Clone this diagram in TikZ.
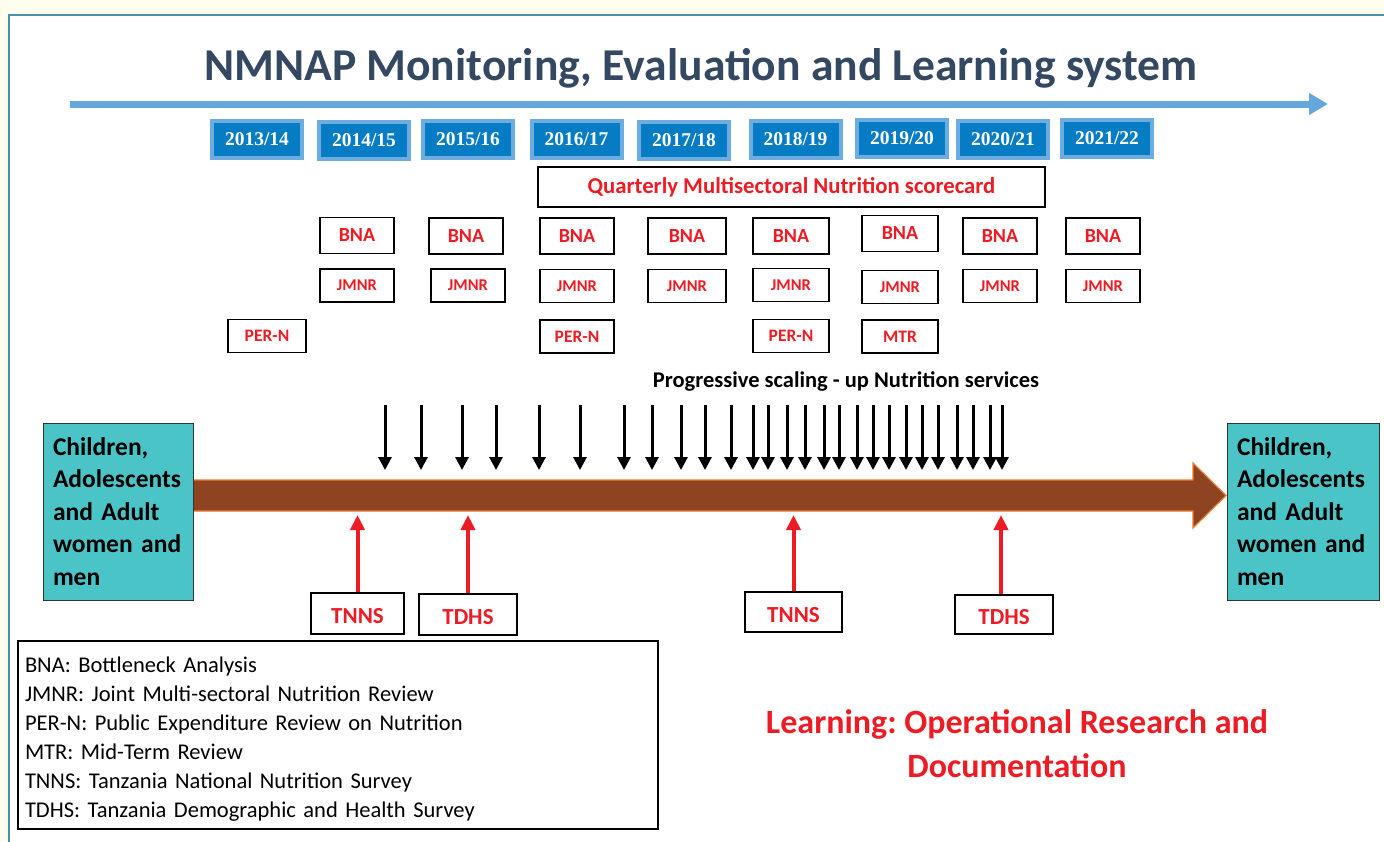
\documentclass[tikz,border=0pt]{standalone}
\usepackage{fontspec}
\setmainfont{Carlito}
\newfontfamily\timesfont{Liberation Serif}
\usetikzlibrary{arrows.meta}
\frenchspacing
\definecolor{cream}{RGB}{254,254,238}
\definecolor{framecol}{RGB}{75,145,165}
\definecolor{titlecol}{RGB}{52,72,97}
\definecolor{arrowblue}{RGB}{102,168,221}
\definecolor{yearedge}{RGB}{108,172,224}
\definecolor{yearfill}{RGB}{5,124,196}
\definecolor{nred}{RGB}{237,28,36}
\definecolor{brownfill}{RGB}{142,68,32}
\definecolor{brownedge}{RGB}{237,125,49}
\definecolor{tealfill}{RGB}{75,196,200}
\tikzset{
  yearbox/.style={draw=yearedge, line width=4pt, fill=yearfill, text=white,
    minimum width=90pt, minimum height=37pt, inner sep=0pt,
    font=\timesfont\bfseries\fontsize{19.5}{21}\selectfont},
  evbox/.style={draw=black, line width=1.3pt, fill=white, text=nred,
    minimum width=74pt, minimum height=36pt, inner sep=0pt},
  bnafont/.style={font=\bfseries\fontsize{20}{22}\selectfont},
  jmfont/.style={font=\bfseries\fontsize{16.5}{18}\selectfont},
  perfont/.style={font=\bfseries\fontsize{17.5}{19}\selectfont},
  survbox/.style={draw=black, line width=1.3pt, fill=white, text=nred,
    minimum height=40pt, inner sep=0pt, text height=20pt, text depth=0pt,
    font=\bfseries\fontsize{23}{25}\selectfont},
  popbox/.style={draw=black!80, line width=1pt, fill=tealfill, text=black,
    minimum height=177pt, inner sep=10pt, text width=130pt, align=left,
    font=\bfseries\fontsize{25.5}{32.5}\selectfont},
  downarrow/.style={line width=3pt, -{Triangle[width=13pt,length=13pt]}},
  uparrow/.style={draw=nred, line width=4pt, -{Triangle[width=14pt,length=15pt]}},
}
\begin{document}
\begin{tikzpicture}[x=1pt,y=-1pt]
\useasboundingbox (0,0) rectangle (1384,841);
\fill[cream] (0,0) rectangle (1384,841);
\draw[framecol, line width=2pt, fill=white] (9,15) rectangle (1400,860);

% title
\node[text=titlecol, font=\bfseries\fontsize{45.6}{50}\selectfont] (title) at (701,68) {NMNAP Monitoring, Evaluation and Learning system};

% timeline arrow
\coordinate (tl0) at (70,104);
\coordinate (tl1) at (1328,104);
\draw[arrowblue, line width=7pt, -{Triangle[width=21pt,length=19pt]}] (tl0) -- (tl1);

% years
\node[yearbox] (y1) at (257,139.5) {2013/14};
\node[yearbox] (y2) at (364,140.5) {2014/15};
\node[yearbox] (y3) at (468,139.5) {2015/16};
\node[yearbox] (y4) at (576.5,139) {2016/17};
\node[yearbox] (y5) at (684,140) {2017/18};
\node[yearbox] (y6) at (795.5,139.5) {2018/19};
\node[yearbox] (y7) at (902,138) {2019/20};
\node[yearbox] (y8) at (1003,139) {2020/21};
\node[yearbox] (y9) at (1107,138) {2021/22};

% scorecard
\node[draw=black, line width=1.3pt, minimum width=507pt, minimum height=40pt, inner sep=0pt,
  text=nred, font=\bfseries\fontsize{22.7}{24}\selectfont] (score) at (791.5,187) {Quarterly Multisectoral Nutrition scorecard};

% BNA row
\node[evbox,bnafont] (b2) at (357,235.5) {BNA};
\node[evbox,bnafont] (b3) at (466,236) {BNA};
\node[evbox,bnafont] (b4) at (577,236) {BNA};
\node[evbox,bnafont,minimum width=78pt] (b5) at (687,236) {BNA};
\node[evbox,bnafont,minimum width=76pt] (b6) at (791,236) {BNA};
\node[evbox,bnafont,minimum width=76pt] (b7) at (900,233.5) {BNA};
\node[evbox,bnafont] (b8) at (1000,236) {BNA};
\node[evbox,bnafont] (b9) at (1103,236) {BNA};

% JMNR row
\node[evbox,jmfont,minimum height=33pt] (j2) at (357,285.5) {JMNR};
\node[evbox,jmfont,minimum height=33pt] (j3) at (468,285.5) {JMNR};
\node[evbox,jmfont,minimum height=33pt] (j4) at (577,286) {JMNR};
\node[evbox,jmfont,minimum height=33pt,minimum width=78pt] (j5) at (687,286) {JMNR};
\node[evbox,jmfont,minimum height=33pt,minimum width=76pt] (j6) at (791,285) {JMNR};
\node[evbox,jmfont,minimum height=33pt,minimum width=76pt] (j7) at (900,287) {JMNR};
\node[evbox,jmfont,minimum height=33pt] (j8) at (1000,286) {JMNR};
\node[evbox,jmfont,minimum height=33pt] (j9) at (1103,286) {JMNR};

% PER-N / MTR row
\node[evbox,perfont,minimum height=33pt,minimum width=78pt] (p1) at (267,336) {PER-N};
\node[evbox,perfont,minimum height=33pt] (p4) at (577,336.5) {PER-N};
\node[evbox,perfont,minimum height=33pt,minimum width=76pt] (p6) at (791,336) {PER-N};
\node[evbox,perfont,minimum height=33pt,minimum width=76pt] (m7) at (900,336.5) {MTR};

% progressive text
\node[font=\bfseries\fontsize{22.5}{24}\selectfont] (prog) at (846,381) {Progressive scaling - up Nutrition services};

% brown arrow
\path[fill=brownfill, draw=brownedge, line width=1.2pt]
  (193,480) -- (1193,480) -- (1193,463) -- (1226,495.5) -- (1193,528) -- (1193,511) -- (193,511) -- cycle;

% down arrows
\foreach \xx [count=\i] in {385,421,462,496,539,580,624,652,681,705,731,753,768,787,805,824,839,857,873,889,906,922,938,957,973,990,1002}{
  \coordinate (da\i) at (\xx,405);
  \coordinate (db\i) at (\xx,470);
  \draw[downarrow] (da\i) -- (db\i);
}

% population boxes
\node[popbox, minimum width=150pt, text width=130pt] (popL) at (118,511.5) {Children,\\Adolescents\\and Adult\\women and\\men};
\node[popbox, minimum width=152pt, text width=132pt] (popR) at (1303,511.5) {Children,\\Adolescents\\and Adult\\women and\\men};

% surveys
\node[survbox, minimum width=93pt, minimum height=41pt] (tnns1) at (357.5,613.5) {TNNS};
\node[survbox, minimum width=98pt, minimum height=41pt] (tdhs1) at (468,614.5) {TDHS};
\node[survbox, minimum width=97pt] (tnns2) at (793.5,612) {TNNS};
\node[survbox, minimum width=98pt, minimum height=39pt] (tdhs2) at (1004,614.5) {TDHS};

\coordinate (u1) at (357.5,515);
\coordinate (u2) at (468,515);
\coordinate (u3) at (793.5,515);
\coordinate (u4) at (1001,515);
\draw[uparrow] (tnns1.north) -- (u1);
\draw[uparrow] (tdhs1.north) -- (u2);
\draw[uparrow] (tnns2.north) -- (u3);
\draw[uparrow] ([xshift=-3pt]tdhs2.north) -- (u4);

% legend
\node[draw=black, line width=1.3pt, fill=white, minimum width=640pt, minimum height=188pt,
  text width=626pt, inner xsep=7pt, align=left, font=\fontsize{22.5}{29}\selectfont] (legend) at (338,735)
  {\rule{0pt}{23pt}BNA: Bottleneck Analysis\\
   JMNR: Joint Multi-sectoral Nutrition Review\\
   PER-N: Public Expenditure Review on Nutrition\\
   MTR: Mid-Term Review\\
   TNNS: Tanzania National Nutrition Survey\\
   TDHS: Tanzania Demographic and Health Survey};

% learning
\node[text=nred, align=center, font=\bfseries\fontsize{34}{44}\selectfont] (learn) at (1017,744)
  {Learning: Operational Research and\\Documentation};
\end{tikzpicture}
\end{document}
